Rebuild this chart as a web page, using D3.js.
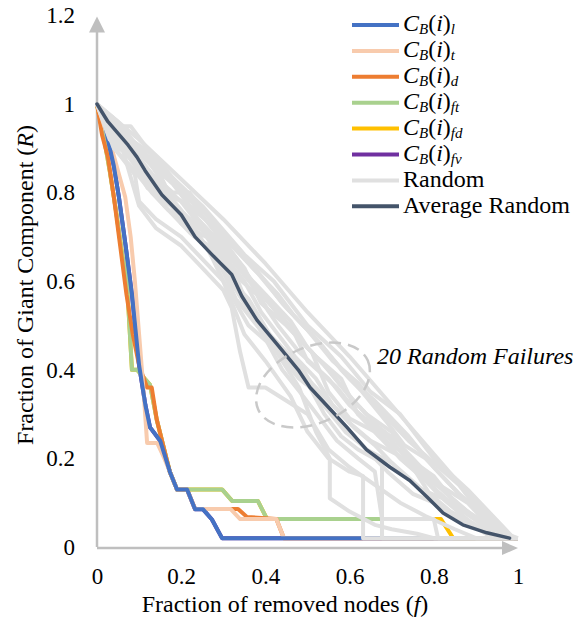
<!DOCTYPE html>
<html>
<head>
<meta charset="utf-8">
<script src="https://cdn.jsdelivr.net/npm/d3@7"></script>
</head>
<body style="margin:0;background:#fff">
<script>
// Size of the chart
const width = 585;
const height = 630;
const SERIF = "'Liberation Serif', monospace";

// Tick values
const xTicks = [0, 0.2, 0.4, 0.6, 0.8, 1];
const yTicks = [0, 0.2, 0.4, 0.6, 0.8, 1, 1.2];

// Targeted failures, [f, R] pairs
const cbL = [[0,1],[0.015,0.975],[0.026,0.92],[0.04,0.86],[0.052,0.79],[0.068,0.68],[0.083,0.57],[0.1,0.41],[0.115,0.32],[0.126,0.27],[0.15,0.24],[0.173,0.17],[0.19,0.13],[0.214,0.13],[0.233,0.085],[0.252,0.085],[0.273,0.062],[0.297,0.02],[1,0.02]];
const cbT = [[0,1],[0.038,0.89],[0.067,0.79],[0.08,0.7],[0.09,0.6],[0.1,0.48],[0.11,0.36],[0.119,0.235],[0.143,0.235],[0.16,0.2],[0.173,0.17],[0.19,0.13],[0.214,0.13],[0.233,0.086],[0.317,0.086],[0.34,0.063],[0.426,0.063],[0.444,0.02],[1,0.02]];
const cbD = [[0,1],[0.012,0.93],[0.026,0.88],[0.04,0.79],[0.055,0.68],[0.07,0.57],[0.085,0.48],[0.1,0.41],[0.119,0.36],[0.13,0.36],[0.142,0.287],[0.166,0.196],[0.173,0.17],[0.19,0.13],[0.214,0.13],[0.233,0.086],[0.335,0.086],[0.356,0.068],[0.426,0.063],[0.444,0.02],[1,0.02]];
const cbFt = [[0,1],[0.019,0.91],[0.03,0.85],[0.045,0.76],[0.06,0.66],[0.071,0.6],[0.083,0.4],[0.095,0.4],[0.126,0.366],[0.142,0.287],[0.166,0.196],[0.173,0.17],[0.19,0.13],[0.297,0.13],[0.321,0.104],[0.382,0.104],[0.404,0.063],[0.677,0.063],[0.677,0.02],[1,0.02]];
const cbFd = [[0,1],[0.019,0.91],[0.03,0.85],[0.045,0.76],[0.06,0.66],[0.071,0.6],[0.083,0.4],[0.095,0.4],[0.126,0.366],[0.142,0.287],[0.166,0.196],[0.173,0.17],[0.19,0.13],[0.297,0.13],[0.321,0.104],[0.382,0.104],[0.404,0.063],[0.817,0.063],[0.846,0.02],[1,0.02]];
const cbFv = [[0,1],[0.015,0.975],[0.026,0.92],[0.04,0.86],[0.052,0.79],[0.068,0.68],[0.083,0.57],[0.1,0.41],[0.115,0.32],[0.126,0.27],[0.15,0.24],[0.173,0.17],[0.19,0.13],[0.214,0.13],[0.233,0.085],[0.252,0.085],[0.273,0.062],[0.297,0.02],[1,0.02]];

// 20 random failure runs
const randomRuns = [
  [[0,1],[0.1,0.92],[0.2,0.83],[0.3,0.74],[0.4,0.64],[0.5,0.53],[0.6,0.43],[0.7,0.32],[0.8,0.21],[0.9,0.1],[0.98,0.02]],
  [[0,1],[0.04,0.95],[0.08,0.95],[0.15,0.86],[0.25,0.77],[0.35,0.66],[0.42,0.6],[0.5,0.5],[0.58,0.43],[0.65,0.35],[0.72,0.3],[0.8,0.2],[0.88,0.13],[0.95,0.06],[0.99,0.02]],
  [[0,1],[0.03,0.93],[0.06,0.91],[0.12,0.85],[0.18,0.8],[0.22,0.8],[0.3,0.7],[0.38,0.62],[0.45,0.54],[0.52,0.47],[0.6,0.38],[0.66,0.33],[0.74,0.25],[0.8,0.18],[0.86,0.12],[0.92,0.07],[0.97,0.02]],
  [[0,1],[0.05,0.9],[0.09,0.88],[0.14,0.83],[0.2,0.78],[0.28,0.68],[0.33,0.65],[0.4,0.56],[0.47,0.48],[0.52,0.43],[0.58,0.38],[0.62,0.3],[0.7,0.24],[0.76,0.17],[0.82,0.13],[0.88,0.08],[0.93,0.04],[0.97,0.02]],
  [[0,1],[0.04,0.92],[0.1,0.86],[0.16,0.8],[0.2,0.73],[0.26,0.7],[0.32,0.62],[0.38,0.57],[0.43,0.5],[0.48,0.44],[0.55,0.38],[0.6,0.32],[0.65,0.28],[0.72,0.2],[0.78,0.15],[0.84,0.1],[0.9,0.06],[0.96,0.02]],
  [[0,1],[0.05,0.89],[0.09,0.84],[0.1,0.78],[0.14,0.74],[0.2,0.7],[0.26,0.64],[0.3,0.6],[0.36,0.5],[0.42,0.45],[0.48,0.38],[0.52,0.35],[0.58,0.28],[0.64,0.22],[0.7,0.19],[0.76,0.14],[0.82,0.09],[0.87,0.06],[0.93,0.03],[0.96,0.02]],
  [[0,1],[0.06,0.9],[0.1,0.77],[0.14,0.72],[0.2,0.68],[0.24,0.64],[0.3,0.58],[0.32,0.54],[0.34,0.44],[0.36,0.36],[0.4,0.36],[0.45,0.33],[0.5,0.3],[0.55,0.22],[0.6,0.18],[0.66,0.14],[0.72,0.1],[0.78,0.07],[0.85,0.04],[0.9,0.02],[0.98,0.02]],
  [[0,1],[0.05,0.92],[0.12,0.84],[0.2,0.74],[0.26,0.68],[0.3,0.6],[0.35,0.48],[0.4,0.42],[0.46,0.34],[0.5,0.26],[0.55,0.2],[0.6,0.17],[0.632,0.16],[0.632,0.02],[1,0.02]],
  [[0,1],[0.04,0.94],[0.1,0.87],[0.18,0.77],[0.24,0.7],[0.3,0.63],[0.36,0.55],[0.42,0.45],[0.48,0.36],[0.52,0.26],[0.553,0.2],[0.553,0.11],[0.6,0.08],[0.66,0.05],[0.7,0.04],[0.76,0.03],[0.8,0.02],[0.99,0.02]],
  [[0,1],[0.03,0.97],[0.08,0.92],[0.14,0.88],[0.2,0.81],[0.27,0.74],[0.34,0.67],[0.4,0.6],[0.44,0.55],[0.5,0.49],[0.56,0.42],[0.62,0.37],[0.68,0.3],[0.74,0.24],[0.8,0.19],[0.86,0.14],[0.9,0.09],[0.95,0.05],[0.98,0.02]],
  [[0,1],[0.06,0.93],[0.12,0.87],[0.18,0.82],[0.22,0.77],[0.28,0.72],[0.34,0.64],[0.38,0.58],[0.44,0.52],[0.48,0.47],[0.54,0.41],[0.6,0.34],[0.64,0.3],[0.7,0.26],[0.74,0.2],[0.8,0.16],[0.85,0.1],[0.88,0.08],[0.93,0.04],[0.97,0.02]],
  [[0,1],[0.05,0.94],[0.11,0.88],[0.15,0.84],[0.19,0.76],[0.25,0.72],[0.31,0.66],[0.37,0.59],[0.41,0.53],[0.46,0.5],[0.5,0.42],[0.57,0.36],[0.62,0.3],[0.67,0.25],[0.73,0.21],[0.78,0.16],[0.83,0.13],[0.88,0.1],[0.92,0.06],[0.96,0.03],[0.99,0.02]],
  [[0,1],[0.04,0.9],[0.08,0.86],[0.13,0.8],[0.17,0.76],[0.23,0.71],[0.29,0.64],[0.33,0.56],[0.38,0.5],[0.44,0.44],[0.49,0.4],[0.53,0.33],[0.59,0.26],[0.63,0.23],[0.69,0.17],[0.75,0.12],[0.8,0.1],[0.85,0.07],[0.89,0.05],[0.94,0.02]],
  [[0,1],[0.05,0.91],[0.1,0.85],[0.16,0.78],[0.22,0.74],[0.27,0.66],[0.32,0.6],[0.36,0.56],[0.41,0.48],[0.46,0.41],[0.5,0.37],[0.54,0.3],[0.58,0.25],[0.62,0.22],[0.677,0.19],[0.677,0.02],[1,0.02]],
  [[0,1],[0.07,0.93],[0.13,0.86],[0.18,0.79],[0.24,0.76],[0.29,0.7],[0.35,0.63],[0.39,0.55],[0.45,0.5],[0.51,0.44],[0.55,0.35],[0.6,0.29],[0.66,0.26],[0.7,0.22],[0.75,0.18],[0.79,0.12],[0.84,0.08],[0.9,0.05],[0.95,0.03],[0.99,0.02]],
  [[0,1],[0.05,0.96],[0.1,0.9],[0.16,0.85],[0.21,0.79],[0.26,0.75],[0.32,0.69],[0.37,0.63],[0.43,0.57],[0.47,0.52],[0.53,0.46],[0.58,0.4],[0.63,0.35],[0.69,0.28],[0.73,0.23],[0.78,0.2],[0.83,0.15],[0.87,0.11],[0.92,0.08],[0.96,0.04],[0.99,0.02]],
  [[0,1],[0.04,0.93],[0.09,0.89],[0.15,0.82],[0.2,0.76],[0.25,0.69],[0.3,0.66],[0.35,0.6],[0.39,0.53],[0.43,0.48],[0.47,0.43],[0.52,0.38],[0.56,0.32],[0.61,0.27],[0.66,0.23],[0.72,0.17],[0.77,0.13],[0.82,0.11],[0.87,0.07],[0.91,0.04],[0.95,0.02]],
  [[0,1],[0.03,0.92],[0.08,0.88],[0.12,0.81],[0.17,0.79],[0.23,0.73],[0.28,0.69],[0.33,0.61],[0.37,0.52],[0.42,0.47],[0.48,0.41],[0.51,0.37],[0.55,0.33],[0.6,0.28],[0.65,0.24],[0.71,0.21],[0.76,0.17],[0.81,0.12],[0.86,0.09],[0.91,0.06],[0.96,0.02]],
  [[0,1],[0.06,0.91],[0.11,0.83],[0.16,0.77],[0.22,0.71],[0.28,0.66],[0.31,0.61],[0.35,0.55],[0.4,0.47],[0.44,0.4],[0.49,0.34],[0.53,0.29],[0.57,0.24],[0.62,0.2],[0.66,0.17],[0.677,0.063],[0.8,0.063],[0.81,0.02],[1,0.02]],
  [[0,1],[0.05,0.95],[0.09,0.91],[0.14,0.86],[0.19,0.81],[0.24,0.74],[0.3,0.68],[0.36,0.61],[0.4,0.57],[0.46,0.51],[0.5,0.45],[0.55,0.4],[0.61,0.33],[0.67,0.27],[0.71,0.24],[0.77,0.18],[0.83,0.12],[0.88,0.08],[0.93,0.05],[0.97,0.03],[1,0.02]]
];

// Average of the random runs
const averageRandom = [[0,1],[0.026,0.96],[0.074,0.907],[0.095,0.88],[0.114,0.85],[0.154,0.795],[0.2,0.75],[0.233,0.70],[0.273,0.66],[0.32,0.615],[0.344,0.566],[0.38,0.512],[0.43,0.455],[0.478,0.40],[0.506,0.36],[0.553,0.312],[0.594,0.27],[0.64,0.22],[0.696,0.18],[0.743,0.15],[0.784,0.113],[0.822,0.077],[0.869,0.05],[0.926,0.032],[0.98,0.02]];

// Legend
const legendSubs = ['l', 't', 'd', 'ft', 'fd', 'fv'];
const legendColors = ['#4472C4', '#F8CBAD', '#ED7D31', '#A9D18E', '#FFC000', '#7030A0', '#E0E0E0', '#44546A'];

const svg = d3.select('body').append('svg')
  .attr('width', width)
  .attr('height', height);

const x = d3.scaleLinear().domain([0, 1]).range([97, 518]);
const y = d3.scaleLinear().domain([0, 1.2]).range([547, 15.4]);

const line = d3.line().x(d => x(d[0])).y(d => y(d[1]));

// axes (labels only)
const xAxis = svg.append('g')
  .attr('transform', `translate(0,${y(0)})`)
  .call(d3.axisBottom(x).tickValues(xTicks).tickSize(0).tickPadding(21).tickFormat(d3.format('~g')));
const yAxis = svg.append('g')
  .attr('transform', `translate(${x(0)},0)`)
  .call(d3.axisLeft(y).tickValues(yTicks).tickSize(0).tickPadding(22).tickFormat(d3.format('~g')));
[xAxis, yAxis].forEach(a => {
  a.attr('font-family', SERIF).attr('font-size', 23);
  a.select('.domain').remove();
  a.selectAll('text')
    .attr('font-family', SERIF)
    .attr('font-size', 23)
    .attr('fill', '#000');
});

// axis lines with arrow heads
const AXIS = '#BFBFBF';
svg.append('line')
  .attr('x1', x(0)).attr('y1', y(0)).attr('x2', x(0)).attr('y2', y(1.2) + 14)
  .attr('stroke', AXIS).attr('stroke-width', 2.5);
svg.append('path')
  .attr('d', `M${x(0)},${y(1.2) + 1}l-8,16h16z`)
  .attr('fill', AXIS);
svg.append('line')
  .attr('x1', x(0)).attr('y1', y(0) + 1).attr('x2', x(1) - 14).attr('y2', y(0) + 1)
  .attr('stroke', AXIS).attr('stroke-width', 2.5);
svg.append('path')
  .attr('d', `M${x(1)},${y(0) + 1}l-16,-7v14z`)
  .attr('fill', AXIS);

// targeted series, drawn so blue ends on top
const targeted = [
  { data: cbFv, color: '#7030A0' },
  { data: cbFd, color: '#FFC000' },
  { data: cbFt, color: '#A9D18E' },
  { data: cbD, color: '#ED7D31' },
  { data: cbT, color: '#F8CBAD' },
  { data: cbL, color: '#4472C4' }
];
svg.append('g')
  .selectAll('path')
  .data(targeted)
  .enter()
  .append('path')
  .attr('d', d => line(d.data))
  .attr('fill', 'none')
  .attr('stroke', d => d.color)
  .attr('stroke-width', 4)
  .attr('stroke-linejoin', 'round');

// random runs
svg.append('g')
  .selectAll('path')
  .data(randomRuns)
  .enter()
  .append('path')
  .attr('d', line)
  .attr('fill', 'none')
  .attr('stroke', '#E0E0E0')
  .attr('stroke-width', 4)
  .attr('stroke-linejoin', 'round');

// average random
svg.append('path')
  .attr('d', line(averageRandom))
  .attr('fill', 'none')
  .attr('stroke', '#44546A')
  .attr('stroke-width', 3.5)
  .attr('stroke-linejoin', 'round')
  .attr('stroke-linecap', 'round');

// dashed ellipse + note
svg.append('ellipse')
  .attr('cx', 313).attr('cy', 385).attr('rx', 60).attr('ry', 38)
  .attr('transform', 'rotate(-24 313 385)')
  .attr('fill', 'none')
  .attr('stroke', '#C9C9C9')
  .attr('stroke-width', 2.5)
  .attr('stroke-dasharray', '12 7');
svg.append('text')
  .attr('x', 377).attr('y', 364)
  .attr('font-family', SERIF)
  .attr('font-size', 24)
  .attr('font-style', 'italic')
  .text('20 Random Failures');

// helper: add a piece of text in the serif face
const part = (t, s, italic, size, dy) => {
  const p = t.append('tspan').attr('font-family', SERIF).text(s);
  if (italic) p.attr('font-style', 'italic');
  if (size) p.attr('font-size', size);
  if (dy) p.attr('dy', dy);
  return p;
};

// axis titles
const xTitle = svg.append('text')
  .attr('x', 285).attr('y', 612)
  .attr('text-anchor', 'middle')
  .attr('font-family', SERIF)
  .attr('font-size', 24);
part(xTitle, 'Fraction of removed nodes (');
part(xTitle, 'f', true);
part(xTitle, ')');

const yTitle = svg.append('text')
  .attr('transform', 'translate(33,285) rotate(-90)')
  .attr('text-anchor', 'middle')
  .attr('font-family', SERIF)
  .attr('font-size', 24);
part(yTitle, 'Fraction of Giant Component (');
part(yTitle, 'R', true);
part(yTitle, ')');

// legend
const legend = svg.append('g');
const rowY = i => 25 + i * 25.9;
legendColors.forEach((c, i) => {
  legend.append('line')
    .attr('x1', 352).attr('x2', 399)
    .attr('y1', rowY(i)).attr('y2', rowY(i))
    .attr('stroke', c).attr('stroke-width', 4);
});
legendSubs.forEach((s, i) => {
  const t = legend.append('text')
    .attr('x', 403).attr('y', rowY(i) + 6)
    .attr('font-family', SERIF)
    .attr('font-size', 24);
  part(t, 'C', true);
  part(t, 'B', true, 15, 3);
  part(t, '(', false, null, -3);
  part(t, 'i', true);
  part(t, ')');
  part(t, s, true, 15, 3);
});
['Random', 'Average Random'].forEach((s, k) => {
  legend.append('text')
    .attr('x', 403).attr('y', rowY(6 + k) + 7)
    .attr('font-family', SERIF)
    .attr('font-size', 24)
    .text(s);
});
</script>
</body>
</html>
